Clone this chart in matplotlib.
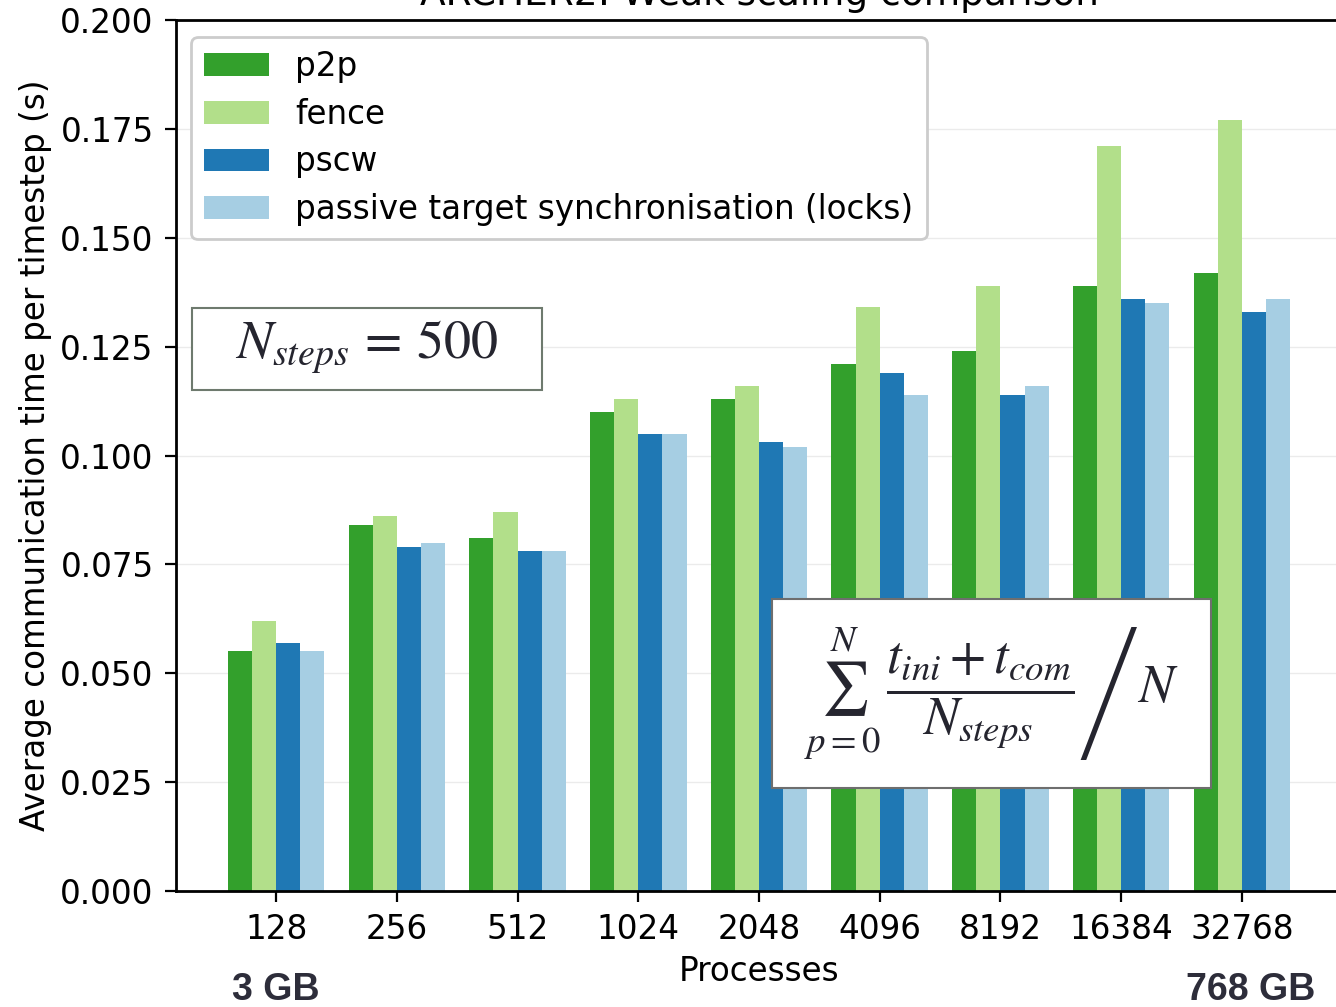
import matplotlib
matplotlib.use("Agg")
import matplotlib.pyplot as plt
import numpy as np
from matplotlib.patches import Rectangle
from matplotlib.transforms import blended_transform_factory

plt.rcParams['font.family'] = ['DejaVu Sans']
plt.rcParams['mathtext.fontset'] = 'stix'

processes = ["128", "256", "512", "1024", "2048", "4096", "8192", "16384", "32768"]
series_names = ["p2p", "fence", "pscw", "passive target synchronisation (locks)"]
p2p = [0.055, 0.084, 0.081, 0.110, 0.113, 0.121, 0.124, 0.139, 0.142]
fence = [0.062, 0.086, 0.087, 0.113, 0.116, 0.134, 0.139, 0.171, 0.177]
pscw = [0.057, 0.079, 0.078, 0.105, 0.103, 0.119, 0.114, 0.136, 0.133]
locks = [0.055, 0.080, 0.078, 0.105, 0.102, 0.114, 0.116, 0.135, 0.136]
colors = ["#33a02c", "#b2df8a", "#1f78b4", "#a6cee3"]
y_ticks = [0.000, 0.025, 0.050, 0.075, 0.100, 0.125, 0.150, 0.175, 0.200]

FS = 23.5

fig = plt.figure(figsize=(13.36, 10.07), dpi=100)
ax = fig.add_axes([0.1317, 0.1152, 0.8728, 0.8649])

x = np.arange(len(processes))
width = 0.2
for i, (vals, name, col) in enumerate(zip([p2p, fence, pscw, locks], series_names, colors)):
    ax.bar(x + (i - 1.5) * width, vals, width, color=col, label=name, zorder=2)

ax.set_xlim(-0.83, 8.83)
ax.set_ylim(0, 0.2)
ax.set_yticks(y_ticks)
ax.set_yticklabels([f"{v:.3f}" for v in y_ticks])
ax.set_xticks(x)
ax.set_xticklabels(processes)
ax.yaxis.grid(True, color="#ebebeb", linewidth=1.0, zorder=0)
ax.set_axisbelow(True)
ax.tick_params(axis='both', labelsize=FS, length=8, width=1.6, colors='black', pad=8)
for s in ax.spines.values():
    s.set_linewidth(2.0)
    s.set_color('black')

ax.set_xlabel("Processes", fontsize=FS, labelpad=6)
ax.set_ylabel("Average communication time per timestep (s)", fontsize=FS, labelpad=6)

ax.text(0.5, 1.0172, "ARCHER2: Weak scaling comparison", transform=ax.transAxes,
        ha='center', va='baseline', fontsize=27)

leg = ax.legend(loc='upper left', fontsize=FS, frameon=True, handlelength=2.0,
                handleheight=0.7, labelspacing=0.45, borderpad=0.4,
                handletextpad=0.8, borderaxespad=0.0,
                bbox_to_anchor=(0.0129, 0.9805), fancybox=True, framealpha=1.0)
leg.get_frame().set_edgecolor('#cccccc')
leg.get_frame().set_linewidth(2)

trans = blended_transform_factory(ax.transData, ax.transAxes)
for xpos, label in [(0, "3 GB"), (8.07, "768 GB")]:
    ax.text(xpos, -0.0935, label, transform=trans, ha='center', va='top',
            fontsize=27, fontweight='bold', color='#2d2d3a',
            family=['Liberation Sans', 'DejaVu Sans'])

# Box showing the number of steps
ax.add_patch(Rectangle((0.0137, 0.5747), 0.3002, 0.0941, transform=ax.transAxes,
                       facecolor='white', edgecolor='#6e7a6e', linewidth=1.5, zorder=5))
ax.text(0.1638, 0.624, r"$N_{steps}\,=\,500$", transform=ax.transAxes,
        ha='center', va='center', fontsize=39, color='#25252f', zorder=6)

# Box with the averaging formula
ax.add_patch(Rectangle((0.5112, 0.1183), 0.3765, 0.2170, transform=ax.transAxes,
                       facecolor='white', edgecolor='#6e6e6e', linewidth=1.5, zorder=5))
ax.text(0.6995, 0.2268,
        r"$\left.\sum_{p=0}^{N}\,\dfrac{t_{ini}+t_{com}}{N_{steps}}\right/N$",
        transform=ax.transAxes, ha='center', va='center', fontsize=38,
        color='#25252f', zorder=6)

fig.savefig("out.png", dpi=100)
